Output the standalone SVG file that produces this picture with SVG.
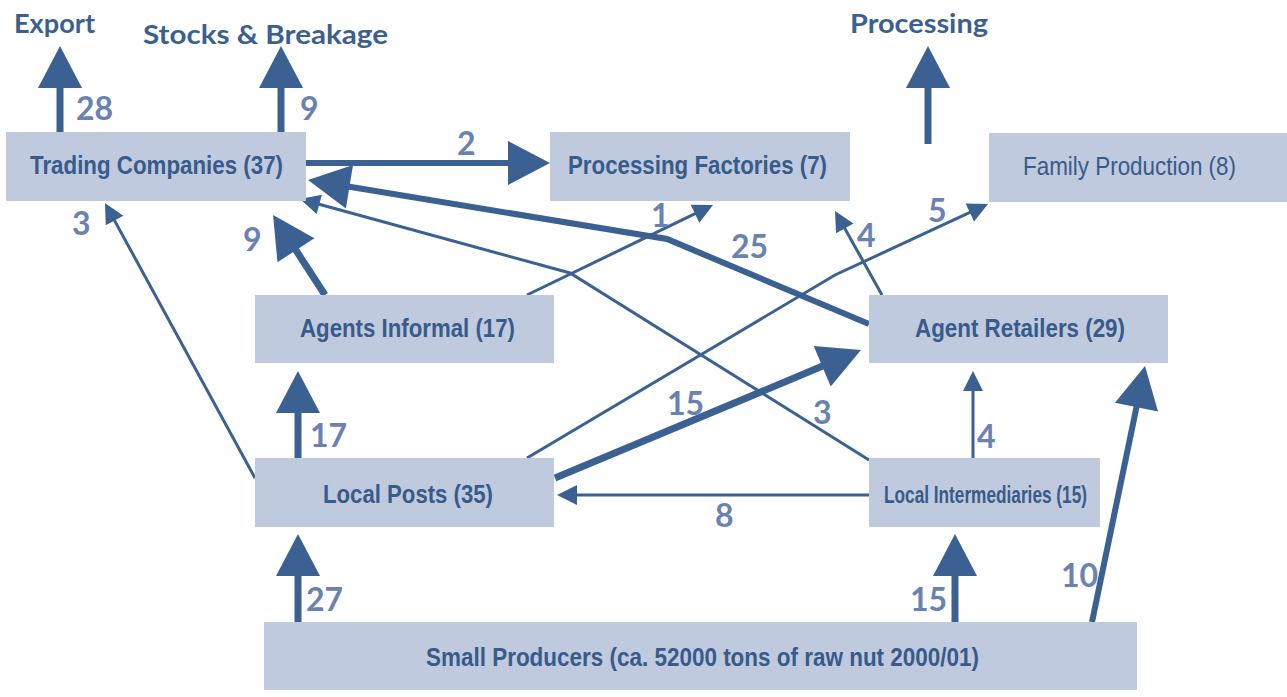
<svg xmlns="http://www.w3.org/2000/svg" width="1287" height="697" viewBox="0 0 1287 697">
<style>
.box{fill:#bfcadf}
.nt{font-family:"Liberation Sans Narrow","Liberation Sans",Arial,sans-serif;font-weight:bold;font-size:26px;fill:#385b8a}
.nr{font-family:"Liberation Sans Narrow","Liberation Sans",Arial,sans-serif;font-weight:normal;font-size:26px;fill:#385b8a}
.title{font-family:Lato,"DejaVu Sans",sans-serif;font-weight:bold;font-size:26px;fill:#3b5f8f}
.num{font-family:Lato,"DejaVu Sans",sans-serif;font-weight:bold;font-size:32px;fill:#6a82b1}
.c{fill:none;stroke:#3a6191;stroke-linejoin:miter}
.thick{stroke-width:7;marker-end:url(#big)}
.mid{stroke-width:6;marker-end:url(#big)}
.thin{stroke-width:3;marker-end:url(#small)}
</style>
<defs>
<marker id="big" markerUnits="userSpaceOnUse" orient="auto" refX="3" refY="0" markerWidth="50" markerHeight="50" overflow="visible">
<path d="M0,-22 L42,0 L0,22 z" fill="#3a6191"/>
</marker>
<marker id="small" markerUnits="userSpaceOnUse" orient="auto" refX="3" refY="0" markerWidth="30" markerHeight="30" overflow="visible">
<path d="M0,-10 L20,0 L0,10 z" fill="#3a6191"/>
</marker>
</defs>
<rect width="1287" height="697" fill="#ffffff"/>

<g id="connectors">
<path class="c thick" d="M60,132 L60,85"/>
<path class="c thick" d="M281,132 L281,85"/>
<path class="c thick" d="M928,144 L928,85"/>
<path class="c mid" d="M306,163 L511,163"/>
<path class="c mid" d="M869,324 L667,239 L346.5,186.3"/>
<path class="c thin" d="M869,460 L570,273 L316.4,203.5"/>
<path class="c thin" d="M255,478 L113.1,217.9"/>
<path class="c thick" d="M325,295 L294.3,247.7"/>
<path class="c thick" d="M298,458 L298,410"/>
<path class="c thin" d="M527,295 L697.7,212.4"/>
<path class="c thin" d="M527,458 L835,275 L972.6,211.2"/>
<path class="c thin" d="M882,295 L843.3,225.8"/>
<path class="c thick" d="M555,478 L825,365.1"/>
<path class="c thin" d="M869,495 L574,495"/>
<path class="c thin" d="M973,458 L973,388"/>
<path class="c mid" d="M1092,622 L1137.1,404.2"/>
<path class="c thick" d="M298,622 L298,573"/>
<path class="c thick" d="M955,622 L955,573"/>
</g>

<g id="labels">
<text class="title" x="14" y="33" textLength="81" lengthAdjust="spacingAndGlyphs">Export</text>
<text class="title" x="143" y="44" textLength="245" lengthAdjust="spacingAndGlyphs">Stocks &amp; Breakage</text>
<text class="title" x="850" y="33" textLength="138" lengthAdjust="spacingAndGlyphs">Processing</text>
<text class="num" x="76" y="120">28</text>
<text class="num" x="300" y="120">9</text>
<text class="num" x="457" y="155">2</text>
<text class="num" x="731" y="258">25</text>
<text class="num" x="651" y="227">1</text>
<text class="num" x="928" y="222">5</text>
<text class="num" x="857" y="247">4</text>
<text class="num" x="72" y="235">3</text>
<text class="num" x="243" y="251">9</text>
<text class="num" x="310" y="447">17</text>
<text class="num" x="667" y="415">15</text>
<text class="num" x="813" y="424">3</text>
<text class="num" x="977" y="448">4</text>
<text class="num" x="715" y="527">8</text>
<text class="num" x="1061" y="587">10</text>
<text class="num" x="306" y="611">27</text>
<text class="num" x="910" y="611">15</text>
</g>

<g id="trading-companies">
<rect class="box" x="6" y="132" width="300" height="69"/>
<text class="nt" x="30" y="174" textLength="253" lengthAdjust="spacingAndGlyphs">Trading Companies (37)</text>
</g>
<g id="processing-factories">
<rect class="box" x="550" y="132" width="300" height="69"/>
<text class="nt" x="568" y="174" textLength="259" lengthAdjust="spacingAndGlyphs">Processing Factories (7)</text>
</g>
<g id="family-production">
<rect class="box" x="989" y="133" width="298" height="69"/>
<text class="nr" x="1023" y="175" textLength="213" lengthAdjust="spacingAndGlyphs">Family Production (8)</text>
</g>
<g id="agents-informal">
<rect class="box" x="255" y="295" width="299" height="68"/>
<text class="nt" x="300" y="337" textLength="215" lengthAdjust="spacingAndGlyphs">Agents Informal (17)</text>
</g>
<g id="agent-retailers">
<rect class="box" x="869" y="295" width="299" height="68"/>
<text class="nt" x="915" y="337" textLength="210" lengthAdjust="spacingAndGlyphs">Agent Retailers (29)</text>
</g>
<g id="local-posts">
<rect class="box" x="255" y="458" width="299" height="69"/>
<text class="nt" x="323" y="503" textLength="170" lengthAdjust="spacingAndGlyphs">Local Posts (35)</text>
</g>
<g id="local-intermediaries">
<rect class="box" x="869" y="458" width="231" height="69"/>
<text class="nt" x="884" y="503" textLength="203" lengthAdjust="spacingAndGlyphs" style="font-size:24px">Local Intermediaries (15)</text>
</g>
<g id="small-producers">
<rect class="box" x="264" y="622" width="873" height="68"/>
<text class="nt" x="426" y="666" textLength="553" lengthAdjust="spacingAndGlyphs">Small Producers (ca. 52000 tons of raw nut 2000/01)</text>
</g>
</svg>
